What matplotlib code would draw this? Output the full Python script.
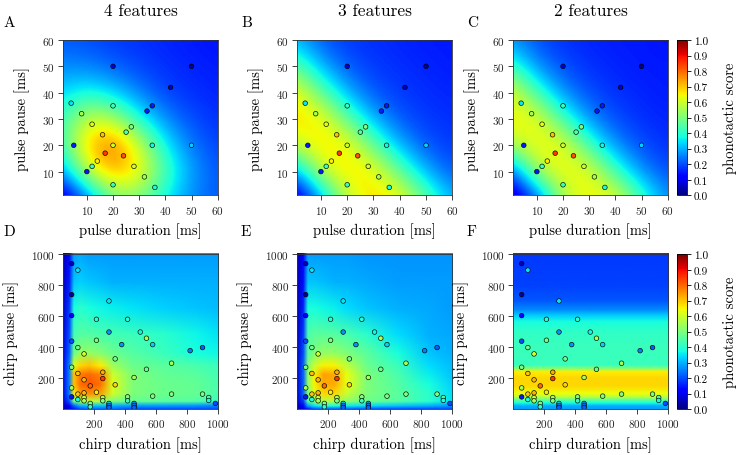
import numpy as np
import matplotlib
matplotlib.use('Agg')
import matplotlib.pyplot as plt
from matplotlib.image import NonUniformImage
from matplotlib.colors import Normalize

plt.rcParams['font.family'] = 'cmr10'
plt.rcParams['mathtext.fontset'] = 'cm'
plt.rcParams['axes.formatter.use_mathtext'] = True

# ---- measured stimuli: pulse parameters (top row) ----
pulse_dur = [20, 50, 42, 35, 33, 4, 8, 20, 12, 27, 25, 16, 5, 20, 35, 50, 17, 24, 14, 28, 12, 10, 32, 20, 36]
pulse_pau = [50, 50, 42, 35, 33, 36, 32, 35, 28, 27, 25, 24, 20, 20, 20, 20, 17, 16, 14, 12, 12, 10, 8, 5, 4]
pulse_score = [0.08, 0.02, 0.06, 0.15, 0.15, 0.35, 0.55, 0.42, 0.63, 0.5, 0.45, 0.7, 0.15, 0.6, 0.37,
               0.33, 0.85, 0.82, 0.66, 0.6, 0.42, 0.15, 0.55, 0.42, 0.38]

# ---- measured stimuli: chirp parameters (bottom row) ----
chirp_dur = [57, 97, 57, 298, 57, 217, 418, 298, 500, 57, 217, 540, 380, 580, 97, 822, 902, 137, 338,
             702, 57, 540, 97, 258, 137, 258, 460, 177, 338, 57, 57, 97, 137, 217, 97, 137, 137, 258,
             258, 177, 177, 298, 298, 298, 418, 418, 460, 460, 460, 580, 702, 902, 942, 942, 985]
chirp_pau = [940, 898, 740, 699, 605, 581, 581, 499, 499, 440, 446, 459, 418, 418, 399, 379, 399, 358, 326,
             298, 272, 259, 232, 240, 191, 199, 206, 152, 159, 139, 81, 99, 107, 111, 64, 77, 56, 77,
             56, 39, 17, 39, 26, 13, 81, 56, 39, 26, 13, 86, 99, 99, 77, 58, 39]
chirp_score = [0.05, 0.35, 0.03, 0.35, 0.12, 0.4, 0.4, 0.27, 0.37, 0.2, 0.5, 0.57, 0.27, 0.33, 0.48, 0.25,
               0.22, 0.6, 0.48, 0.55, 0.5, 0.48, 0.7, 0.73, 0.72, 0.85, 0.55, 0.8, 0.68, 0.55, 0.15, 0.7,
               0.72, 0.66, 0.38, 0.58, 0.55, 0.55, 0.5, 0.5, 0.4, 0.35, 0.25, 0.22, 0.5, 0.42, 0.28, 0.25,
               0.22, 0.5, 0.5, 0.5, 0.45, 0.38, 0.2]

# ---- model predictions, top row (grid every 10 ms, rows = pause 0..60) ----
pred_a = [[0.03, 0.22, 0.48, 0.50, 0.36, 0.26, 0.21],
          [0.25, 0.58, 0.74, 0.66, 0.44, 0.28, 0.21],
          [0.40, 0.70, 0.81, 0.60, 0.36, 0.24, 0.19],
          [0.40, 0.60, 0.56, 0.38, 0.26, 0.20, 0.17],
          [0.33, 0.38, 0.33, 0.25, 0.19, 0.17, 0.16],
          [0.26, 0.25, 0.22, 0.19, 0.17, 0.16, 0.15],
          [0.21, 0.20, 0.18, 0.17, 0.16, 0.15, 0.14]]
# 3 and 2 features: score along duration + pause (0, 10, ..., 120 ms)
band_b = [0.02, 0.27, 0.58, 0.68, 0.66, 0.47, 0.30, 0.21, 0.18, 0.17, 0.16, 0.15, 0.15]
band_c = [0.02, 0.18, 0.56, 0.65, 0.64, 0.43, 0.26, 0.20, 0.17, 0.16, 0.15, 0.15, 0.14]

# ---- model predictions, bottom row ----
chirp_x = [0, 40, 70, 110, 170, 240, 320, 450, 650, 850, 1000]
chirp_y = [0, 20, 50, 100, 160, 220, 280, 360, 480, 650, 820, 1000]
pred_d = [[0.03, 0.08, 0.15, 0.20, 0.22, 0.22, 0.22, 0.20, 0.20, 0.20, 0.20],
          [0.05, 0.12, 0.22, 0.30, 0.32, 0.32, 0.30, 0.28, 0.28, 0.27, 0.25],
          [0.08, 0.20, 0.48, 0.55, 0.58, 0.56, 0.50, 0.47, 0.46, 0.45, 0.42],
          [0.10, 0.25, 0.66, 0.74, 0.76, 0.74, 0.60, 0.50, 0.48, 0.47, 0.44],
          [0.10, 0.25, 0.70, 0.79, 0.82, 0.79, 0.62, 0.50, 0.48, 0.47, 0.44],
          [0.10, 0.25, 0.70, 0.78, 0.80, 0.77, 0.60, 0.50, 0.47, 0.46, 0.43],
          [0.10, 0.25, 0.62, 0.68, 0.70, 0.66, 0.54, 0.48, 0.46, 0.44, 0.42],
          [0.09, 0.22, 0.48, 0.53, 0.53, 0.51, 0.48, 0.45, 0.42, 0.38, 0.37],
          [0.08, 0.20, 0.43, 0.45, 0.45, 0.44, 0.43, 0.42, 0.40, 0.37, 0.35],
          [0.07, 0.18, 0.38, 0.40, 0.38, 0.37, 0.36, 0.35, 0.33, 0.32, 0.31],
          [0.06, 0.15, 0.32, 0.33, 0.32, 0.31, 0.30, 0.30, 0.30, 0.30, 0.30],
          [0.05, 0.13, 0.28, 0.29, 0.28, 0.28, 0.28, 0.28, 0.28, 0.28, 0.28]]
pred_e = [[0.03, 0.08, 0.15, 0.20, 0.22, 0.22, 0.22, 0.20, 0.20, 0.20, 0.20],
          [0.05, 0.12, 0.28, 0.35, 0.38, 0.38, 0.36, 0.34, 0.32, 0.30, 0.27],
          [0.06, 0.18, 0.45, 0.52, 0.57, 0.57, 0.52, 0.48, 0.45, 0.40, 0.35],
          [0.07, 0.22, 0.50, 0.62, 0.68, 0.68, 0.59, 0.50, 0.46, 0.40, 0.34],
          [0.07, 0.22, 0.52, 0.65, 0.73, 0.73, 0.63, 0.50, 0.45, 0.38, 0.33],
          [0.07, 0.22, 0.52, 0.65, 0.74, 0.73, 0.63, 0.50, 0.44, 0.36, 0.32],
          [0.07, 0.22, 0.50, 0.59, 0.65, 0.65, 0.58, 0.48, 0.42, 0.34, 0.31],
          [0.06, 0.20, 0.46, 0.50, 0.53, 0.53, 0.50, 0.46, 0.38, 0.32, 0.30],
          [0.06, 0.18, 0.44, 0.46, 0.46, 0.45, 0.44, 0.40, 0.34, 0.30, 0.29],
          [0.05, 0.16, 0.38, 0.38, 0.37, 0.36, 0.34, 0.32, 0.30, 0.29, 0.28],
          [0.05, 0.14, 0.32, 0.32, 0.31, 0.30, 0.30, 0.29, 0.28, 0.28, 0.28],
          [0.04, 0.12, 0.28, 0.28, 0.28, 0.28, 0.28, 0.27, 0.27, 0.27, 0.27]]
# 2 features: depends on chirp pause only
pause_f = [0, 20, 40, 60, 80, 100, 150, 200, 240, 262, 285, 400, 500, 560, 600, 640, 700, 800, 1000]
score_f = [0.28, 0.30, 0.38, 0.48, 0.58, 0.64, 0.68, 0.68, 0.66, 0.50, 0.42, 0.42, 0.41, 0.38, 0.33,
           0.26, 0.21, 0.19, 0.18]

W, H = 738, 456
fig = plt.figure(figsize=(W / 100, H / 100), dpi=100)
norm = Normalize(0, 1)


def box(l, t, r, b):
    return [l / W, 1 - b / H, (r - l) / W, (b - t) / H]


def style(ax):
    ax.tick_params(direction='out', length=3.5, width=0.6, labelsize=8, pad=2.5,
                   top=False, right=False, colors='#222222')
    for s in ax.spines.values():
        s.set_linewidth(0.6)
        s.set_color('#333333')


cols = [(63.3, 217.7), (297.3, 452.3), (513.3, 667.7)]
top_row = (41, 196.3)
bot_row = (255.3, 410)

# top row
for k, grid in enumerate([np.array(pred_a),
                          np.array(band_b)[np.add.outer(np.arange(7), np.arange(7))],
                          np.array(band_c)[np.add.outer(np.arange(7), np.arange(7))]]):
    ax = fig.add_axes(box(cols[k][0], top_row[0], cols[k][1], top_row[1]))
    ax.imshow(grid, origin='lower', extent=(-5, 65, -5, 65), interpolation='bicubic',
              cmap='jet', norm=norm, aspect='auto')
    ax.scatter(pulse_dur, pulse_pau, c=pulse_score, cmap='jet', norm=norm, s=11,
               edgecolors='black', linewidths=0.45, zorder=3)
    ax.set_xlim(1, 60)
    ax.set_ylim(1, 60)
    ax.set_xticks([10, 20, 30, 40, 50, 60])
    ax.set_yticks([10, 20, 30, 40, 50, 60])
    style(ax)

# bottom row
for k in range(3):
    ax = fig.add_axes(box(cols[k][0], bot_row[0], cols[k][1], bot_row[1]))
    im = NonUniformImage(ax, interpolation='bilinear', cmap='jet', norm=norm)
    if k == 0:
        im.set_data(chirp_x, chirp_y, np.array(pred_d))
    elif k == 1:
        im.set_data(chirp_x, chirp_y, np.array(pred_e))
    else:
        im.set_data([0, 1000], pause_f, np.tile(np.array(score_f)[:, None], (1, 2)))
    ax.add_image(im)
    ax.scatter(chirp_dur, chirp_pau, c=chirp_score, cmap='jet', norm=norm, s=11,
               edgecolors='black', linewidths=0.45, zorder=3)
    ax.set_xlim(3, 1000)
    ax.set_ylim(3, 1000)
    ax.set_xticks([200, 400, 600, 800, 1000])
    ax.set_yticks([200, 400, 600, 800, 1000])
    style(ax)

# colorbars
for row in [top_row, bot_row]:
    cax = fig.add_axes(box(677.3, row[0], 686.7, row[1]))
    sm = plt.cm.ScalarMappable(norm=norm, cmap='jet')
    cb = fig.colorbar(sm, cax=cax, ticks=np.arange(0, 1.01, 0.1))
    cb.ax.set_yticklabels(['%.1f' % v for v in np.arange(0, 1.01, 0.1)])
    cb.outline.set_linewidth(0.6)
    cax.tick_params(direction='out', length=3, width=0.6, labelsize=8, pad=2)
    fig.text(730 / W, 1 - (row[0] + row[1]) / 2 / H, 'phonotactic score', rotation=90,
             ha='center', va='center', fontsize=10.5)


def ftext(x, y, s, **kw):
    fig.text(x / W, 1 - y / H, s, **kw)


for k, t in enumerate(['4 features', '3 features', '2 features']):
    ftext((cols[k][0] + cols[k][1]) / 2, 11, t, ha='center', va='center', fontsize=12.5)

for k, (l1, l2) in enumerate([('A', 'D'), ('B', 'E'), ('C', 'F')]):
    x = [3, 241, 467][k]
    ftext(x, 23, l1, ha='left', va='center', fontsize=11)
    ftext(x, 232, l2, ha='left', va='center', fontsize=11)

for k in range(3):
    cx = (cols[k][0] + cols[k][1]) / 2
    ftext(cx, 231, 'pulse duration [ms]', ha='center', va='center', fontsize=10.5)
    ftext(cx, 445, 'chirp duration [ms]', ha='center', va='center', fontsize=10.5)
    ftext(cols[k][0] - 41, (top_row[0] + top_row[1]) / 2, 'pulse pause [ms]',
          rotation=90, ha='center', va='center', fontsize=10.5)
    ftext(cols[k][0] - 52, (bot_row[0] + bot_row[1]) / 2, 'chirp pause [ms]',
          rotation=90, ha='center', va='center', fontsize=10.5)

fig.savefig('out.png', dpi=100)
